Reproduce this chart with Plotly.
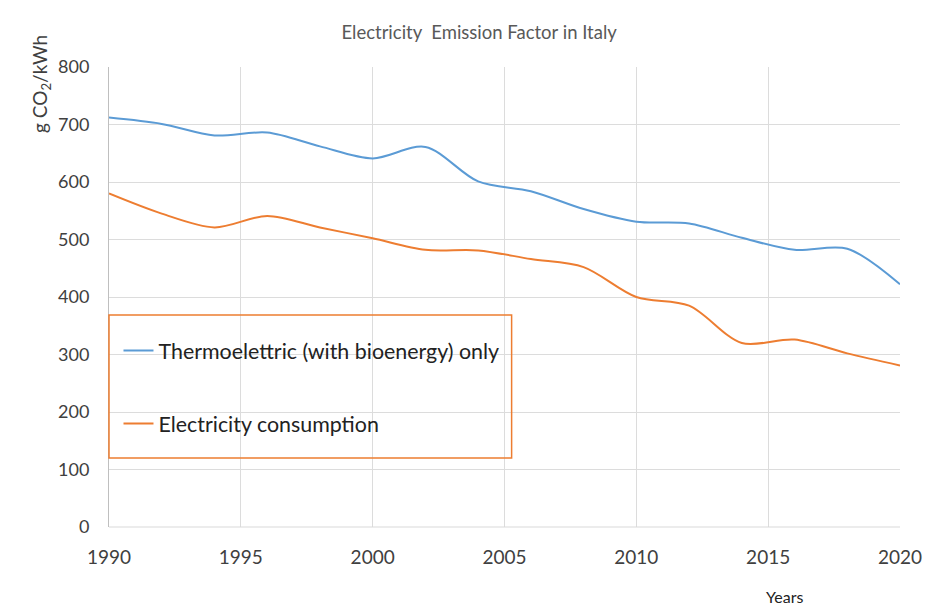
import plotly.graph_objects as go

years = [1990, 1992, 1994, 1996, 1998, 2000, 2002, 2004, 2006, 2008, 2010, 2012, 2014, 2016, 2018, 2020]
thermo = [712, 701, 681, 686, 662, 641, 661, 601, 584, 553, 531, 528, 503, 482, 484, 422]
consumption = [580, 545, 521, 541, 521, 502, 482, 481, 466, 452, 400, 385, 320, 326, 302, 281]
x_ticks = [1990, 1995, 2000, 2005, 2010, 2015, 2020]
y_ticks = [0, 100, 200, 300, 400, 500, 600, 700, 800]

FONT = "Lato, 'Open Sans', sans-serif"

fig = go.Figure()
fig.add_trace(go.Scatter(x=years, y=thermo, mode="lines", name="Thermoelettric (with bioenergy) only",
                         line=dict(color="#5b9bd5", width=2, shape="spline", smoothing=0.9),
                         legendgroup="a"))
fig.add_trace(go.Scatter(x=years, y=consumption, mode="lines", name="Electricity consumption",
                         line=dict(color="#ed7d31", width=2, shape="spline", smoothing=0.9),
                         legendgroup="b"))

fig.update_layout(
    width=934, height=613,
    margin=dict(l=109, r=24, t=67, b=86),
    paper_bgcolor="white", plot_bgcolor="white",
    font=dict(family=FONT, color="#595959"),
    title=dict(text="Electricity  Emission Factor in Italy", x=0.513, xanchor="center",
               y=1 - 33 / 613, yanchor="middle", font=dict(size=18.5, color="#595959")),
    showlegend=True,
    legend=dict(x=0.012, y=0.304, xanchor="left", yanchor="middle",
                bgcolor="rgba(0,0,0,0)", borderwidth=0,
                font=dict(size=21.4, color="#222222"), tracegroupgap=42,
                itemwidth=30),
    xaxis=dict(range=[1990, 2020], tickvals=x_ticks, ticktext=[str(v) for v in x_ticks],
               showgrid=True, gridcolor="#dcdcdc", gridwidth=1,
               showline=False, zeroline=False, ticks="",
               tickfont=dict(size=19, color="#404040"), ticklabelstandoff=17),
    yaxis=dict(range=[0, 800], tickvals=y_ticks,
               showgrid=True, gridcolor="#dcdcdc", gridwidth=1,
               showline=True, linecolor="#bfbfbf", linewidth=1, zeroline=False, ticks="",
               tickfont=dict(size=18, color="#404040"), ticklabelstandoff=15),
)

fig.add_shape(type="line", xref="paper", yref="paper", x0=0, x1=1, y0=0, y1=0,
              line=dict(color="#d9d9d9", width=1))
fig.add_shape(type="rect", xref="paper", yref="paper", x0=0.0, x1=0.509, y0=0.150, y1=0.461,
              line=dict(color="#ed7d31", width=1.5), fillcolor="rgba(255,255,255,0)")

fig.add_annotation(text="g CO<sub>2</sub>/kWh", xref="paper", yref="paper", x=-0.086, y=0.963,
                   xanchor="center", yanchor="middle", textangle=-90, showarrow=False,
                   font=dict(size=19, color="#404040"))
fig.add_annotation(text="Years", xref="paper", yref="paper", x=0.854, y=-0.152,
                   xanchor="center", yanchor="middle", showarrow=False,
                   font=dict(size=16, color="#222222"))

fig.write_html("out.html", config={"displayModeBar": False},
               post_script="document.body.style.margin='0';document.body.style.overflow='hidden';")
